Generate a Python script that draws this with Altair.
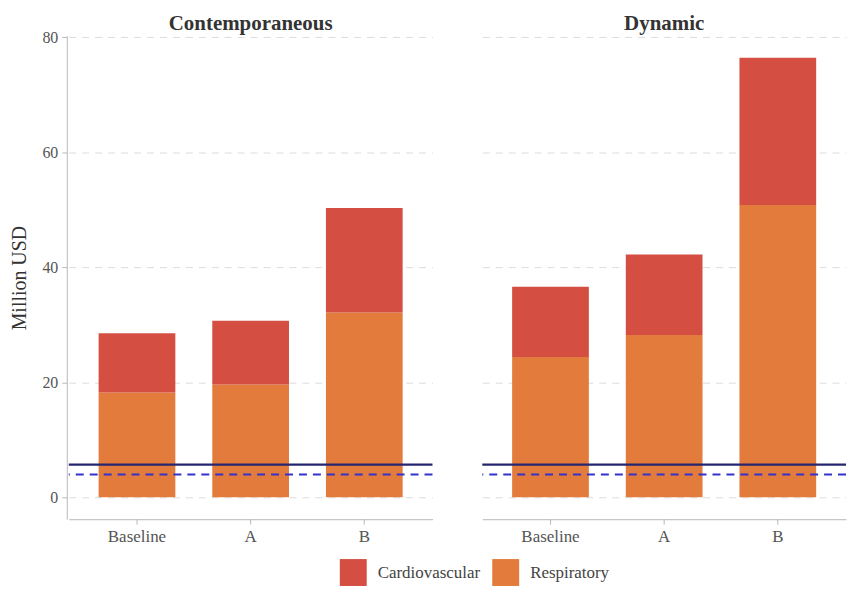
import altair as alt
import pandas as pd

panels = ["Contemporaneous", "Dynamic"]
scenarios = ["Baseline", "A", "B"]
causes = ["Cardiovascular", "Respiratory"]
respiratory = {"Contemporaneous": [18.2, 19.6, 32.1], "Dynamic": [24.4, 28.2, 50.8]}
total = {"Contemporaneous": [28.5, 30.7, 50.3], "Dynamic": [36.6, 42.2, 76.4]}
solid_line = 5.67
dashed_line = 3.95
y_ticks = [0, 20, 40, 60, 80]

rows = []
for p in panels:
    for i, s in enumerate(scenarios):
        r = respiratory[p][i]
        rows.append({"panel": p, "scenario": s, "cause": "Respiratory", "value": r, "ord": 0})
        rows.append({"panel": p, "scenario": s, "cause": "Cardiovascular", "value": round(total[p][i] - r, 2), "ord": 1})
df = pd.DataFrame(rows)

FONT = "Liberation Serif"
colors = ["#d44f42", "#e27b3b"]
ymin, ymax = -3.82, 80.2

yaxis = alt.Axis(values=y_ticks, title="Million USD", grid=True, gridDash=[7, 6],
                 gridColor="#dcdcdc", domain=True, domainColor="#b8b8b8",
                 ticks=True, tickColor="#b8b8b8", tickSize=5,
                 labelFont=FONT, labelFontSize=16, labelColor="#555555", labelPadding=4,
                 titleFont=FONT, titleFontSize=20, titleFontWeight="normal",
                 titleColor="#333333", titlePadding=12)
xaxis = alt.Axis(title=None, labelAngle=0, labelFont=FONT, labelFontSize=17,
                 labelColor="#555555", domain=True, domainColor="#b8b8b8",
                 ticks=True, tickColor="#b8b8b8", tickSize=5, labelPadding=4, grid=False)

bars = alt.Chart().mark_bar().encode(
    x=alt.X("scenario:N", sort=scenarios, axis=xaxis,
            scale=alt.Scale(paddingInner=0.325, paddingOuter=0.2625)),
    y=alt.Y("value:Q", stack="zero", axis=yaxis,
            scale=alt.Scale(domain=[ymin, ymax], nice=False, zero=False)),
    color=alt.Color("cause:N", sort=causes,
                    scale=alt.Scale(domain=causes, range=colors),
                    legend=alt.Legend(title=None, orient="none", direction="horizontal",
                                      legendX=272, legendY=525,
                                      symbolType="square", symbolSize=729,
                                      symbolStrokeWidth=0, labelFont=FONT,
                                      labelFontSize=17, labelColor="#444444",
                                      labelOffset=11, columnPadding=12)),
    order=alt.Order("ord:Q"),
)
one_row = (alt.datum.scenario == "Baseline") & (alt.datum.cause == "Respiratory")
solid = alt.Chart().mark_rule(color="#262670", strokeWidth=2.2).encode(
    y=alt.Y(datum=solid_line)).transform_filter(one_row)
dashed = alt.Chart().mark_rule(color="#3333cc", strokeWidth=2, strokeDash=[8, 6]).encode(
    y=alt.Y(datum=dashed_line)).transform_filter(one_row)

chart = alt.layer(bars, solid, dashed, data=df).properties(
    width=365, height=485
).facet(
    column=alt.Column("panel:N", sort=panels,
                      header=alt.Header(title=None, labelFont=FONT, labelFontSize=21,
                                        labelFontWeight="bold", labelColor="#333333",
                                        labelOrient="top", labelPadding=2)),
    spacing=46,
).properties(
    padding={"left": 2, "top": 4, "right": 0, "bottom": 0}
).configure_view(stroke=None)

chart.save("out.html", embed_options={"renderer": "svg", "actions": False})
